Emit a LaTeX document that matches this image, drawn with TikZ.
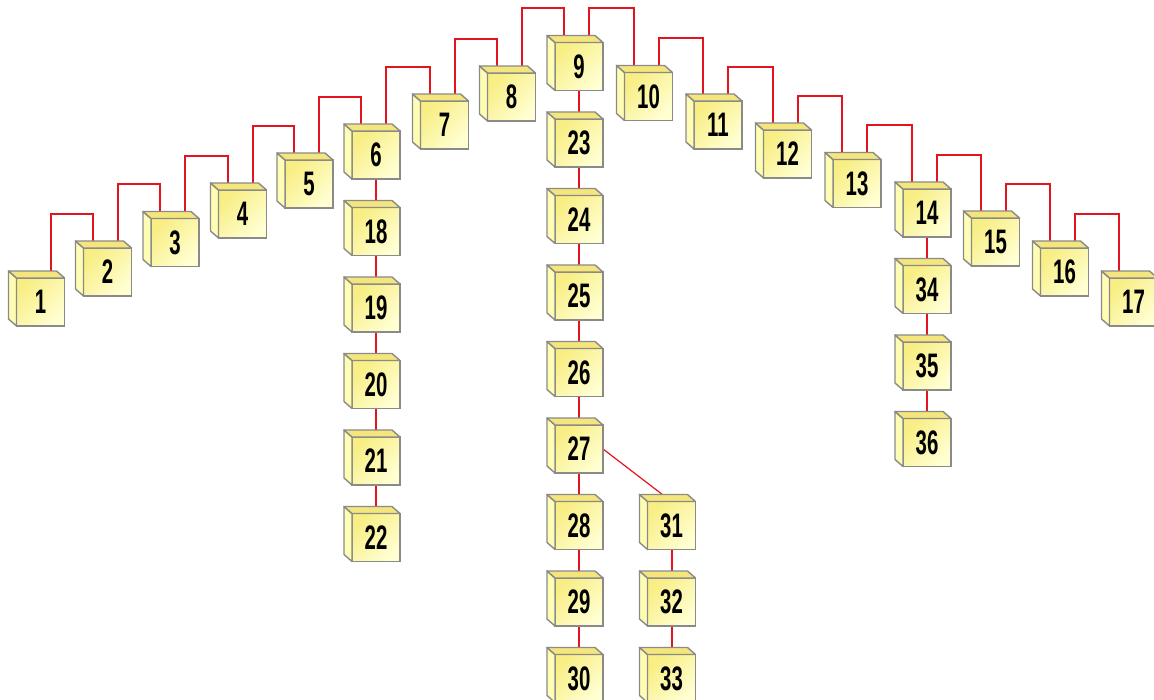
\documentclass[tikz,border=0pt]{standalone}
\usepackage{fontspec}
\newfontfamily\cubefont[FakeStretch=0.6]{Liberation Sans}
\usepackage{tikz}
\usetikzlibrary{positioning,backgrounds}

\definecolor{cubefront}{HTML}{F8EE84}
\definecolor{cubelight}{HTML}{FFFFD2}
\definecolor{cubetop}{HTML}{F4E67C}
\definecolor{cubeside}{HTML}{FFFDB4}
\definecolor{cubeedge}{HTML}{8A8A8A}
\definecolor{linkred}{HTML}{E3141E}

\begin{document}
\begin{tikzpicture}[x=1pt, y=-1pt,
  node distance=28.5pt and 44.5pt,
  cube/.style={draw=cubeedge, line width=1.6pt, minimum width=48pt, minimum height=48pt,
               inner sep=0pt, outer sep=0pt, top color=cubefront, bottom color=cubelight,
               shading angle=45, font=\cubefont\bfseries\fontsize{34pt}{34pt}\selectfont},
  face/.style={draw=cubeedge, line width=1.4pt, line join=round},
  link/.style={draw=linkred, line width=2pt}
]
\useasboundingbox (0,0) rectangle (1154,700);

% top row
\node[cube] (c1) at (40.5,302) {1};
\node[cube] (c2) at (107.5,272) {2};
\node[cube] (c3) at (175,242.5) {3};
\node[cube] (c4) at (242.5,214) {4};
\node[cube] (c5) at (309,184) {5};
\node[cube] (c6) at (376,155) {6};
\node[cube] (c7) at (444.5,125) {7};
\node[cube] (c8) at (511.5,97) {8};
\node[cube] (c9) at (579,66.5) {9};
\node[cube] (c10) at (648.5,96.5) {10};
\node[cube] (c11) at (718,125) {11};
\node[cube] (c12) at (787.5,154) {12};
\node[cube] (c13) at (857,183.5) {13};
\node[cube] (c14) at (927,213) {14};
\node[cube] (c15) at (995.5,242) {15};
\node[cube] (c16) at (1064.5,272) {16};
\node[cube] (c17) at (1133.5,302) {17};

% column under 6
\node[cube, below=of c6] (c18) {18};
\node[cube, below=of c18] (c19) {19};
\node[cube, below=of c19] (c20) {20};
\node[cube, below=of c20] (c21) {21};
\node[cube, below=of c21] (c22) {22};

% column under 9
\node[cube, below=of c9] (c23) {23};
\node[cube, below=of c23] (c24) {24};
\node[cube, below=of c24] (c25) {25};
\node[cube, below=of c25] (c26) {26};
\node[cube, below=of c26] (c27) {27};
\node[cube, below=of c27] (c28) {28};
\node[cube, below=of c28] (c29) {29};
\node[cube, below=of c29] (c30) {30};
\node[cube, right=of c28] (c31) {31};
\node[cube, below=of c31] (c32) {32};
\node[cube, below=of c32] (c33) {33};

% column under 14
\node[cube, below=of c14] (c34) {34};
\node[cube, below=of c34] (c35) {35};
\node[cube, below=of c35] (c36) {36};

% side and top faces
\foreach \n in {1,...,36} {
  \filldraw[face, fill=cubeside] (c\n.south west) -- (c\n.north west) -- ++(-8pt,7pt) -- ++(0pt,-48pt) -- cycle;
  \filldraw[face, fill=cubetop] (c\n.north west) -- ++(-8pt,7pt) -- ++(48pt,0pt) -- (c\n.north east) -- cycle;
}

\begin{scope}[on background layer]
% rising side
\draw[link] ([xshift=10pt]c1.north) |- ([xshift=-15pt,yshift=34pt]c2.north) -- ([xshift=-15pt]c2.north);
\draw[link] ([xshift=10pt]c2.north) |- ([xshift=-15pt,yshift=34pt]c3.north) -- ([xshift=-15pt]c3.north);
\draw[link] ([xshift=10pt]c3.north) |- ([xshift=-15pt,yshift=34pt]c4.north) -- ([xshift=-15pt]c4.north);
\draw[link] ([xshift=10pt]c4.north) |- ([xshift=-15pt,yshift=34pt]c5.north) -- ([xshift=-15pt]c5.north);
\draw[link] ([xshift=10pt]c5.north) |- ([xshift=-15pt,yshift=34pt]c6.north) -- ([xshift=-15pt]c6.north);
\draw[link] ([xshift=10pt]c6.north) |- ([xshift=-15pt,yshift=34pt]c7.north) -- ([xshift=-15pt]c7.north);
\draw[link] ([xshift=10pt]c7.north) |- ([xshift=-15pt,yshift=34pt]c8.north) -- ([xshift=-15pt]c8.north);
\draw[link] ([xshift=10pt]c8.north) |- ([xshift=-15pt,yshift=34pt]c9.north) -- ([xshift=-15pt]c9.north);
% falling side
\draw[link] ([xshift=10pt]c9.north) -- ([xshift=10pt,yshift=34pt]c9.north) -| ([xshift=-15pt]c10.north);
\draw[link] ([xshift=10pt]c10.north) -- ([xshift=10pt,yshift=34pt]c10.north) -| ([xshift=-15pt]c11.north);
\draw[link] ([xshift=10pt]c11.north) -- ([xshift=10pt,yshift=34pt]c11.north) -| ([xshift=-15pt]c12.north);
\draw[link] ([xshift=10pt]c12.north) -- ([xshift=10pt,yshift=34pt]c12.north) -| ([xshift=-15pt]c13.north);
\draw[link] ([xshift=10pt]c13.north) -- ([xshift=10pt,yshift=34pt]c13.north) -| ([xshift=-15pt]c14.north);
\draw[link] ([xshift=10pt]c14.north) -- ([xshift=10pt,yshift=34pt]c14.north) -| ([xshift=-15pt]c15.north);
\draw[link] ([xshift=10pt]c15.north) -- ([xshift=10pt,yshift=34pt]c15.north) -| ([xshift=-15pt]c16.north);
\draw[link] ([xshift=10pt]c16.north) -- ([xshift=10pt,yshift=34pt]c16.north) -| ([xshift=-15pt]c17.north);
% columns
\draw[link] (c6) -- (c18);
\draw[link] (c18) -- (c19);
\draw[link] (c19) -- (c20);
\draw[link] (c20) -- (c21);
\draw[link] (c21) -- (c22);
\draw[link] (c9) -- (c23);
\draw[link] (c23) -- (c24);
\draw[link] (c24) -- (c25);
\draw[link] (c25) -- (c26);
\draw[link] (c26) -- (c27);
\draw[link] (c27) -- (c28);
\draw[link] (c28) -- (c29);
\draw[link] (c29) -- (c30);
\draw[link, line width=1.2pt] (c27.east) -- (c31.north);
\draw[link] (c31) -- (c32);
\draw[link] (c32) -- (c33);
\draw[link] (c14) -- (c34);
\draw[link] (c34) -- (c35);
\draw[link] (c35) -- (c36);
\end{scope}
\end{tikzpicture}
\end{document}
